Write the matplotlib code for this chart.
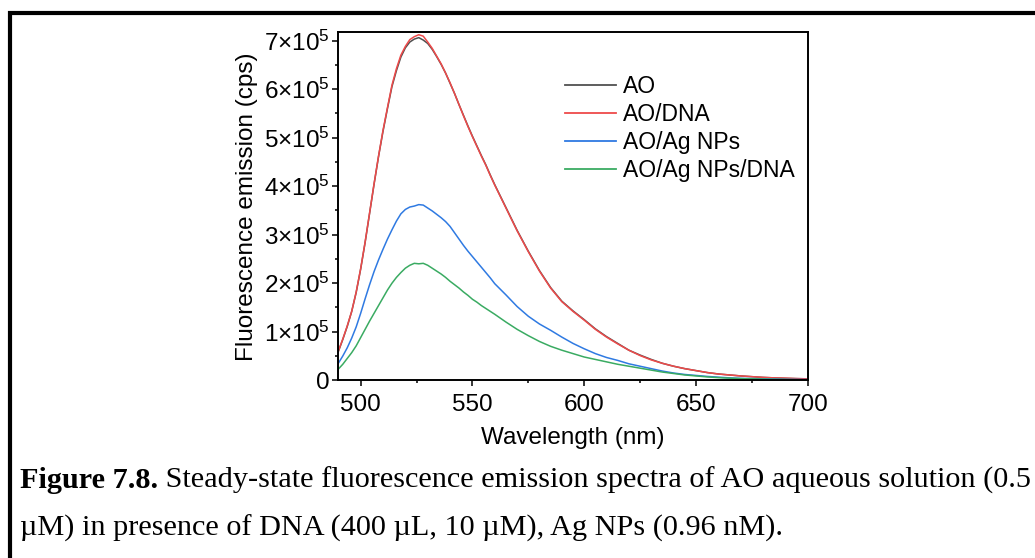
import numpy as np
import matplotlib
matplotlib.use("Agg")
import matplotlib.pyplot as plt
from matplotlib.patches import Rectangle
from matplotlib.ticker import MultipleLocator, FuncFormatter

plt.rcParams["font.family"] = ["Liberation Sans", "DejaVu Sans"]
plt.rcParams["mathtext.fontset"] = "custom"
plt.rcParams["mathtext.rm"] = "Liberation Sans"
plt.rcParams["mathtext.it"] = "Liberation Sans:italic"
plt.rcParams["mathtext.bf"] = "Liberation Sans:bold"

# Emission wavelengths (nm)
wavelength = (list(range(490, 561, 2)) + list(range(565, 701, 5)))

# Emission intensities in units of 1e5 cps
ao_dna = [0.60, 0.85, 1.12, 1.42, 1.82, 2.30, 2.85, 3.45, 4.05, 4.62, 5.15, 5.62,
          6.08, 6.42, 6.70, 6.88, 7.02, 7.08, 7.12, 7.09, 6.97, 6.84, 6.68, 6.52,
          6.33, 6.13, 5.91, 5.68, 5.45, 5.23, 5.02, 4.82, 4.62, 4.43, 4.22, 4.02,
          3.55, 3.08, 2.65, 2.25, 1.90, 1.62, 1.42, 1.24, 1.05, 0.89, 0.75, 0.62,
          0.51, 0.42, 0.35, 0.29, 0.24, 0.20, 0.16, 0.13, 0.11, 0.09, 0.075, 0.06,
          0.05, 0.045, 0.035, 0.03]
ao = [0.59, 0.84, 1.11, 1.42, 1.81, 2.29, 2.84, 3.44, 4.04, 4.61, 5.13, 5.60,
      6.05, 6.38, 6.66, 6.85, 6.97, 7.03, 7.06, 7.01, 6.94, 6.82, 6.67, 6.51,
      6.33, 6.12, 5.91, 5.68, 5.46, 5.24, 5.03, 4.83, 4.63, 4.44, 4.23, 4.03,
      3.56, 3.09, 2.66, 2.26, 1.91, 1.63, 1.43, 1.25, 1.06, 0.90, 0.76, 0.62,
      0.52, 0.43, 0.35, 0.29, 0.24, 0.20, 0.16, 0.13, 0.11, 0.09, 0.075, 0.06,
      0.05, 0.04, 0.035, 0.03]
ao_ag = [0.35, 0.50, 0.67, 0.87, 1.10, 1.38, 1.68, 1.97, 2.24, 2.48, 2.70, 2.91,
         3.10, 3.28, 3.43, 3.52, 3.57, 3.59, 3.62, 3.61, 3.55, 3.49, 3.42, 3.35,
         3.27, 3.17, 3.04, 2.91, 2.78, 2.66, 2.55, 2.44, 2.33, 2.22, 2.11, 1.99,
         1.76, 1.52, 1.32, 1.16, 1.03, 0.89, 0.76, 0.65, 0.55, 0.47, 0.41, 0.34,
         0.29, 0.24, 0.19, 0.15, 0.12, 0.10, 0.08, 0.065, 0.05, 0.04, 0.035, 0.03,
         0.025, 0.02, 0.018, 0.015]
ao_ag_dna = [0.23, 0.33, 0.45, 0.57, 0.71, 0.88, 1.05, 1.22, 1.38, 1.54, 1.70, 1.86,
             2.00, 2.12, 2.22, 2.31, 2.37, 2.41, 2.40, 2.41, 2.37, 2.31, 2.25, 2.19,
             2.12, 2.04, 1.97, 1.90, 1.82, 1.75, 1.67, 1.61, 1.54, 1.48, 1.42, 1.36,
             1.20, 1.05, 0.92, 0.80, 0.70, 0.62, 0.55, 0.48, 0.43, 0.38, 0.33, 0.29,
             0.25, 0.21, 0.17, 0.14, 0.11, 0.09, 0.07, 0.055, 0.045, 0.035, 0.03, 0.025,
             0.02, 0.017, 0.013, 0.01]

labels = ["AO", "AO/DNA", "AO/Ag NPs", "AO/Ag NPs/DNA"]
colors = ["#505050", "#ee4a4a", "#2f7ae2", "#3aab62"]
series = [ao, ao_dna, ao_ag, ao_ag_dna]
scale = 1e5

caption_1_bold = "Figure 7.8."
caption_1 = " Steady-state fluorescence emission spectra of AO aqueous solution (0.5"
caption_2 = "\u00b5M) in presence of DNA (400 \u00b5L, 10 \u00b5M), Ag NPs (0.96 nM)."

fig = plt.figure(figsize=(10.35, 5.58), dpi=100)
W, H = 1035, 558

# outer frame around the figure block
fig.add_artist(Rectangle((10 / W, -0.2), 1.5, 1.2 - 12.5 / H,
                         transform=fig.transFigure, fill=False,
                         edgecolor="black", linewidth=3.0, clip_on=False))

ax = fig.add_axes([338.3 / W, (H - 380.3) / H, (807.7 - 338.3) / W, (380.3 - 32.3) / H])

for y, lab, col in zip(series, labels, colors):
    ax.plot(wavelength, np.asarray(y) * scale, color=col, lw=1.1, label=lab)

ax.set_xlim(490, 700)
ax.set_ylim(0, 7.17e5)
ax.xaxis.set_major_locator(MultipleLocator(50))
ax.xaxis.set_minor_locator(MultipleLocator(25))
ax.yaxis.set_major_locator(MultipleLocator(1e5))
ax.yaxis.set_minor_locator(MultipleLocator(0.5e5))


def sci_fmt(v, pos):
    n = int(round(v / 1e5))
    return "0" if n == 0 else f"{n}\u00d710$^{{{5}}}$"


ax.yaxis.set_major_formatter(FuncFormatter(sci_fmt))
ax.tick_params(which="major", direction="out", length=4.5, width=1.1,
               labelsize=17.5, pad=1.5, top=False, right=False)
ax.tick_params(which="minor", direction="out", length=2.5, width=1.1,
               top=False, right=False)
ax.tick_params(axis="x", which="major", pad=5.5)
for s in ax.spines.values():
    s.set_linewidth(1.4)

ax.set_xlabel("Wavelength (nm)", fontsize=17.5, labelpad=8)
ax.set_ylabel("Fluorescence emission (cps)", fontsize=17.5, labelpad=4.5)

leg = ax.legend(loc="upper left", bbox_to_anchor=(565 / W, (H - 75) / H),
                bbox_transform=fig.transFigure, frameon=False, fontsize=16.5,
                handlelength=2.23, handletextpad=0.3, labelspacing=0.22,
                borderaxespad=0, borderpad=0)
for line in leg.get_lines():
    line.set_linewidth(1.3)

# caption below the chart
cap_size = 21.8
t1 = fig.text(20 / W, (H - 488) / H, caption_1_bold, family="Liberation Serif",
              fontweight="bold", fontsize=cap_size, va="baseline", ha="left")
fig.canvas.draw()
bb = t1.get_window_extent()
fig.text(bb.x1 / W, (H - 488) / H, caption_1, family="Liberation Serif",
         fontsize=cap_size, va="baseline", ha="left")
fig.text(20 / W, (H - 536) / H, caption_2, family="Liberation Serif",
         fontsize=cap_size, va="baseline", ha="left")

fig.savefig("out.png", dpi=100)
